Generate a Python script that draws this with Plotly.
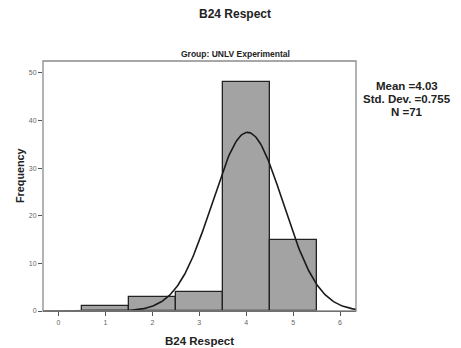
import numpy as np
import plotly.graph_objects as go

# Data
categories = [1, 2, 3, 4, 5]
frequencies = [1, 3, 4, 48, 15]
x_tick_labels = ["0", "1", "2", "3", "4", "5", "6"]
y_tick_values = [0, 10, 20, 30, 40, 50]
mean_value = 4.03
std_dev = 0.755
n_total = 71
stat_lines = ["Mean =4.03", "Std. Dev. =0.755", "N =71"]

FONT = "Arial, Liberation Sans, sans-serif"

# Normal curve fitted from the stated mean / SD / N (bin width 1)
xc = np.linspace(-0.33, 6.34, 300)
yc = n_total * 1.0 / (std_dev * np.sqrt(2 * np.pi)) * np.exp(-0.5 * ((xc - mean_value) / std_dev) ** 2)

fig = go.Figure()
fig.add_trace(go.Bar(
    x=categories, y=frequencies, width=1,
    marker=dict(color="#a3a3a3", line=dict(color="#222222", width=1.3)),
    hoverinfo="skip", showlegend=False,
))
fig.add_trace(go.Scatter(
    x=xc, y=yc, mode="lines",
    line=dict(color="#1a1a1a", width=1.6),
    hoverinfo="skip", showlegend=False,
))

L, T, B = 43, 61, 37
H = 348
y0 = H - B  # pixel row of plot bottom


def ann(text, px, py, size, angle=0):
    return dict(text=text, xref="paper", yref="paper", x=0, y=0,
                xshift=px - L, yshift=y0 - py, xanchor="center", yanchor="middle",
                showarrow=False, textangle=angle, font=dict(size=size, color="#222"))


annotations = [
    ann("<b>B24 Respect</b>", 235, 14, 12),
    ann("<b>Group: UNLV Experimental</b>", 235, 54, 8.5),
    ann("<b>B24 Respect</b>", 199, 341, 11.5),
    ann("<b>Frequency</b>", 20, 176, 10.8, angle=-90),
]
for i, s in enumerate(stat_lines):
    annotations.append(ann("<b>" + s + "</b>", 407, 86 + 13 * i, 11.5))

fig.update_layout(
    width=461, height=348,
    margin=dict(l=L, r=105, t=T, b=B, autoexpand=False),
    paper_bgcolor="white", plot_bgcolor="white",
    font=dict(family=FONT, color="#222"),
    bargap=0,
    xaxis=dict(
        range=[-0.33, 6.34], tickvals=list(range(7)), ticktext=x_tick_labels,
        showgrid=False, zeroline=False, automargin=False,
        showline=True, linecolor="#222", linewidth=1.3,
        ticks="outside", ticklen=4, tickcolor="#555", tickwidth=1,
        tickfont=dict(size=7, color="#666", family=FONT),
    ),
    yaxis=dict(
        range=[0, 52.5], tickvals=y_tick_values,
        showgrid=False, zeroline=False, automargin=False,
        showline=False,
        ticks="outside", ticklen=4, tickcolor="#555", tickwidth=1,
        tickfont=dict(size=7, color="#666", family=FONT),
    ),
    shapes=[
        dict(type="rect", xref="paper", yref="paper", x0=0, x1=1, y0=0, y1=1,
             line=dict(color="#8a8a8a", width=1.3), layer="above"),
    ],
    annotations=annotations,
)
fig.write_html("out.html", config={"displayModeBar": False},
               post_script="document.body.style.margin='0';document.body.style.overflow='hidden';")
